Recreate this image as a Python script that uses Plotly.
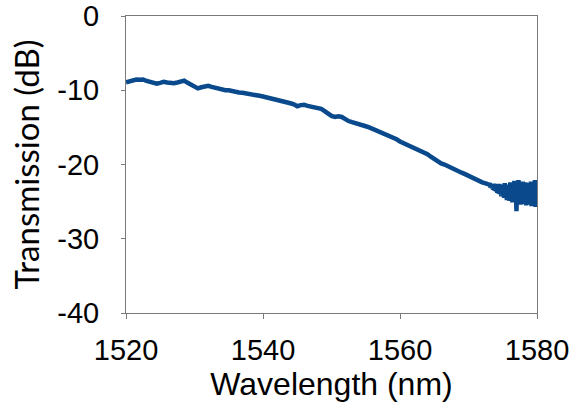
import numpy as np
import plotly.graph_objects as go

# Smooth part: 1520.0 .. 1573.0 nm, step 0.5 nm
wl_smooth = np.round(np.arange(1520.0, 1573.01, 0.5), 2)
t_smooth = [
    -8.95, -8.8, -8.65, -8.55, -8.6, -8.55, -8.75, -8.85, -8.9, -9.1,
    -9.0, -8.85, -8.95, -9.0, -9.05, -8.95, -8.8, -8.7, -9.0, -9.3,
    -9.5, -9.75, -9.6, -9.45, -9.4, -9.55, -9.7, -9.85, -9.9, -10.0,
    -10.0, -10.15, -10.2, -10.3, -10.35, -10.4, -10.55, -10.6, -10.7, -10.75,
    -10.85, -10.95, -11.0, -11.1, -11.2, -11.3, -11.45, -11.6, -11.75, -11.9,
    -12.15, -12.0, -11.95, -12.1, -12.2, -12.3, -12.35, -12.5, -12.8, -13.15,
    -13.45, -13.6, -13.5, -13.6, -13.9, -14.15, -14.3, -14.4, -14.55, -14.7,
    -14.85, -15.0, -15.2, -15.4, -15.5, -15.7, -15.95, -16.1, -16.35, -16.6,
    -16.9, -17.1, -17.35, -17.6, -17.8, -18.0, -18.2, -18.3, -18.6, -18.95,
    -19.3, -19.6, -19.85, -20.0, -20.25, -20.5, -20.7, -20.9, -21.1, -21.3,
    -21.55, -21.8, -22.0, -22.2, -22.4, -22.55, -22.7,
]

# Noisy part: 1573.1 .. 1580.0 nm, step 0.1 nm
wl_noisy = np.round(np.arange(1573.1, 1580.001, 0.1), 2)
t_noisy = [
    -22.5, -23.1, -22.6, -23.2, -22.7, -23.4, -22.6, -23.5, -22.8, -23.6,
    -22.6, -23.8, -22.8, -23.9, -22.6, -24.0, -22.9, -24.3, -22.7, -24.1,
    -22.9, -24.5, -22.5, -24.4, -23.0, -24.8, -22.7, -24.6, -22.9, -24.9,
    -22.4, -24.5, -23.1, -25.1, -22.7, -24.8, -22.2, -25.0, -23.1, -26.3,
    -22.8, -25.2, -22.1, -24.9, -22.9, -25.4, -22.6, -25.0, -22.3, -25.3,
    -22.8, -24.9, -22.4, -25.5, -23.0, -25.1, -22.5, -25.4, -22.8, -25.0,
    -22.3, -25.6, -23.1, -25.2, -22.6, -25.5, -22.1, -25.7, -22.5, -24.8,
]

wavelength = list(wl_smooth) + list(wl_noisy)
transmission = t_smooth + t_noisy

x_ticks = [1520, 1540, 1560, 1580]
y_ticks = [0, -10, -20, -30, -40]

axis_color = "#7a7a7a"
tick_font = dict(family="Liberation Sans, Arial, sans-serif", size=29, color="black")

fig = go.Figure()
fig.add_trace(go.Scatter(
    x=wavelength, y=transmission, mode="lines",
    line=dict(color="#0a4a8c", width=4.5),
    showlegend=False,
))

fig.update_layout(
    width=574, height=404,
    margin=dict(l=126, r=37, t=16, b=91),
    paper_bgcolor="white", plot_bgcolor="white",
)
fig.update_xaxes(
    range=[1520, 1580], tickvals=x_ticks, ticktext=[str(v) for v in x_ticks],
    showgrid=False, zeroline=False, automargin=False,
    showline=True, linecolor=axis_color, linewidth=1, mirror=True,
    ticks="outside", ticklen=5, tickcolor=axis_color,
    tickfont=tick_font, ticklabelstandoff=6,
    title=dict(text="Wavelength (nm)",
               font=dict(family="Liberation Sans, Arial, sans-serif", size=32, color="black"),
               standoff=6),
)
fig.update_yaxes(
    range=[-40, 0], tickvals=y_ticks, ticktext=[str(v) for v in y_ticks],
    showgrid=False, zeroline=False, automargin=False,
    showline=True, linecolor=axis_color, linewidth=1, mirror=True,
    ticks="outside", ticklen=4, tickcolor=axis_color,
    tickfont=tick_font, ticklabelstandoff=16,
    title=dict(text="Transmission (dB)",
               font=dict(family="Lato, sans-serif", size=33, color="black"),
               standoff=7),
)

fig.write_html("out.html")
